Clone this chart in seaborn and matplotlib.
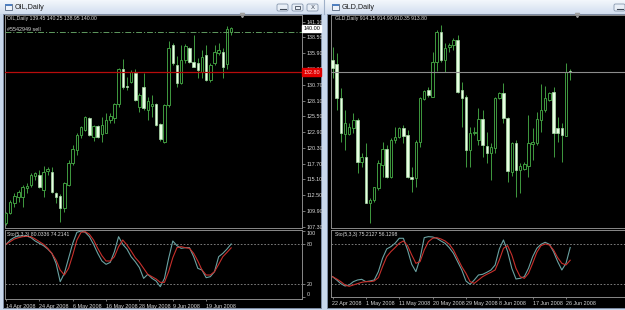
import numpy as np
import pandas as pd
import matplotlib
matplotlib.use("Agg")
import matplotlib.pyplot as plt
import matplotlib.transforms as mtransforms
from matplotlib.patches import Rectangle, FancyBboxPatch
from matplotlib.colors import LinearSegmentedColormap
import seaborn as sns

plt.rcParams['font.family'] = ['Liberation Sans Narrow', 'Liberation Sans', 'DejaVu Sans']

# ---------------- OIL, Daily ----------------
oil_title = "OIL,Daily"
oil_header = "OIL,Daily 139.45 140.25 138.95 140.00"
oil_sto_header = "Sto(5,3,3) 80.0336 74.2141"
oil_open = [107.86, 109.51, 111.26, 112.25, 112.25, 113.63, 114.18, 115.66, 115.83, 113.35,
            116.54, 116.37, 112.91, 112.36, 110.33, 114.18, 117.75, 119.95, 122.42, 123.24,
            125.17, 122.14, 123.90, 122.58, 122.80, 124.89, 125.17, 127.53, 133.24, 130.50,
            131.21, 132.58, 127.09, 130.39, 126.54, 127.20, 127.53, 124.23, 121.32, 127.36,
            137.25, 133.96, 130.94, 134.78, 136.70, 134.51, 134.34, 132.86, 135.61, 131.48,
            134.23, 135.99, 136.15, 134.12, 139.45]
oil_high = [109.78, 111.70, 112.91, 113.35, 114.18, 114.56, 116.10, 116.37, 116.65, 117.31,
            117.20, 117.20, 113.08, 112.69, 114.73, 118.30, 120.77, 122.69, 123.90, 125.55,
            125.33, 124.07, 124.07, 125.44, 125.99, 125.99, 127.75, 133.41, 134.89, 132.03,
            133.13, 133.24, 129.29, 132.58, 128.63, 129.01, 127.64, 124.34, 127.53, 137.97,
            137.53, 135.44, 137.25, 137.42, 136.98, 138.90, 135.06, 136.43, 137.25, 134.23,
            137.25, 137.53, 136.70, 140.39, 140.25]
oil_low = [107.58, 109.40, 110.61, 111.43, 110.61, 112.80, 113.90, 115.00, 113.63, 112.25,
           115.83, 112.91, 111.15, 108.13, 109.67, 114.01, 117.47, 119.12, 121.87, 123.13,
           122.25, 121.43, 121.87, 121.32, 122.69, 124.34, 124.34, 127.09, 129.95, 129.84,
           130.94, 128.08, 126.26, 126.54, 124.89, 125.44, 123.96, 121.48, 121.05, 126.98,
           133.96, 130.28, 130.83, 134.23, 134.34, 133.57, 131.76, 131.76, 131.37, 131.21,
           133.96, 135.61, 131.76, 133.24, 138.95]
oil_close = [109.62, 111.43, 112.36, 113.08, 113.90, 114.01, 115.83, 116.10, 113.90, 116.37,
             116.76, 113.08, 112.25, 110.33, 114.56, 117.86, 120.06, 122.42, 123.79, 125.44,
             122.42, 123.90, 122.14, 124.07, 124.89, 125.55, 127.47, 133.24, 130.28, 130.28,
             132.86, 128.19, 129.01, 126.81, 128.08, 127.53, 124.07, 121.70, 127.36, 136.81,
             134.23, 130.94, 134.78, 137.09, 134.51, 133.68, 133.13, 135.33, 131.48, 133.96,
             136.15, 136.43, 133.68, 139.84, 140.00]
oil_sto_k = [79.5, 86, 90, 92, 92, 92, 89.5, 84.5, 81, 77.5, 72.5, 66, 51, 23.5, 36, 58.5, 81,
             97.5, 99.5, 97.5, 91, 79.5, 66, 54.5, 49.5, 52.5, 68.5, 91, 79.5, 72.5, 61, 53.5,
             44.5, 28.5, 34.5, 28.5, 24.5, 16, 28.5, 58.5, 84.5, 77.5, 73.5, 74.5, 74.5, 61,
             43.5, 41, 29.5, 31, 38.5, 61, 66, 72.5, 80.03]
oil_sto_d = [79.5, 83.5, 87.5, 89.5, 91, 91.5, 91, 87.5, 83.5, 79.5, 73.5, 66, 56, 41, 33.5,
             43.5, 63.5, 86, 97.5, 98.5, 94.5, 86, 73.5, 62.5, 54.5, 54.5, 61, 76, 86, 78.5,
             69.5, 59.5, 52.5, 43.5, 34.5, 31, 27.5, 22.5, 22.5, 38.5, 59.5, 74.5, 76, 74.5,
             73.5, 66, 54.5, 41, 33.5, 33.5, 38.5, 49.5, 61, 67.5, 74.21]
oil_date_labels = ["14 Apr 2008", "24 Apr 2008", "6 May 2008", "16 May 2008",
                   "28 May 2008", "9 Jun 2008", "19 Jun 2008"]
oil_date_bars = [0, 8, 16, 24, 32, 40, 48]
oil_price_ticks = [141.10, 138.50, 135.90, 133.30, 130.70, 128.10, 125.50,
                   122.90, 120.30, 117.70, 115.10, 112.50, 109.90, 107.30]
oil_bid = 140.00
oil_red_level = 132.80
oil_order_level = 139.35
oil_order_label = "#5542949 sell"

# ---------------- GLD, Daily ----------------
gld_title = "GLD,Daily"
gld_header = "GLD,Daily 914.15 914.90 910.35 913.80"
gld_sto_header = "Sto(5,3,3) 75.2127 56.1298"
gld_open = [918.91, 917.20, 902.59, 887.42, 887.42, 889.83, 893.37, 875.64, 877.77, 858.20,
            859.33, 864.30, 874.23, 880.89, 869.26, 884.86, 886.28, 889.83, 886.99, 869.26,
            868.55, 884.15, 902.17, 906.14, 903.30, 918.20, 930.96, 918.91, 924.30, 925.29,
            927.42, 906.14, 903.02, 880.61, 887.98, 884.86, 893.80, 882.31, 879.19, 881.32,
            902.59, 904.72, 894.08, 871.39, 883.45, 872.10, 872.38, 873.80, 883.16, 883.45,
            893.37, 897.63, 901.89, 905.43, 889.83, 889.83, 886.57, 914.15]
gld_high = [924.58, 922.03, 906.85, 897.63, 891.96, 896.21, 894.08, 879.19, 883.45, 860.04,
            865.01, 876.35, 884.15, 882.74, 885.57, 890.54, 890.54, 891.25, 889.12, 873.52,
            884.86, 903.30, 906.14, 907.56, 922.45, 931.67, 933.80, 926.00, 926.00, 928.13,
            929.54, 909.69, 904.01, 890.54, 890.54, 898.34, 897.63, 888.41, 883.45, 903.02,
            905.43, 908.98, 894.79, 884.15, 884.86, 874.93, 875.64, 895.50, 889.83, 896.92,
            908.69, 907.84, 905.43, 907.56, 894.79, 891.96, 917.49, 914.90]
gld_low = [911.10, 897.63, 884.15, 880.61, 886.99, 887.70, 870.68, 873.52, 857.91, 849.40,
           858.62, 863.59, 869.26, 868.55, 868.55, 883.45, 885.57, 883.45, 868.55, 862.88,
           865.01, 882.03, 901.89, 903.30, 903.02, 914.37, 918.20, 913.94, 922.45, 923.16,
           904.72, 890.54, 873.52, 873.52, 886.99, 882.74, 877.77, 874.93, 867.84, 879.47,
           902.17, 891.96, 867.13, 869.54, 860.75, 862.45, 872.10, 869.26, 876.35, 882.74,
           888.41, 896.92, 901.60, 877.77, 884.15, 875.64, 886.57, 910.35]
gld_close = [915.36, 902.59, 887.70, 891.96, 890.54, 893.37, 875.64, 877.49, 858.20, 859.33,
             864.72, 874.93, 880.89, 869.26, 884.86, 886.28, 889.83, 886.57, 869.26, 868.13,
             884.15, 902.59, 905.86, 904.01, 918.20, 930.96, 918.91, 923.87, 925.29, 927.42,
             905.43, 902.59, 880.61, 887.98, 888.41, 893.80, 882.74, 879.47, 881.74, 902.59,
             904.72, 894.08, 871.81, 883.45, 872.10, 873.80, 874.65, 883.45, 884.15, 893.66,
             897.63, 902.59, 905.01, 887.98, 887.98, 886.99, 913.94, 913.80]
gld_sto_k = [31.5, 26.5, 21, 17.5, 19, 24, 26.5, 27.5, 24, 25, 26.5, 39, 59, 73, 76.5, 81.5,
             89, 89, 71.5, 50, 39, 59, 90, 91.5, 91, 89, 85, 81.5, 75, 66.5, 54, 41.5, 25, 20,
             26.5, 34, 35, 38, 41.5, 49, 73, 86.5, 69, 44, 28, 29, 31.5, 44, 61.5, 74, 80, 83,
             80, 69, 54, 41.5, 51.5, 75.21]
gld_sto_d = [31.5, 28, 24, 19, 17, 19, 21, 23, 24, 24, 25, 30, 46.5, 61.5, 69, 75, 81.5, 85,
             78, 64, 51.5, 54, 71.5, 84, 89, 90, 88, 85, 80, 71.5, 59, 46.5, 36.5, 24, 21.5,
             26.5, 31.5, 35, 38, 41.5, 56.5, 74, 78, 64, 44, 31.5, 29, 36.5, 51.5, 68, 78,
             80.5, 79, 71.5, 60, 51.5, 49, 56.13]
gld_date_labels = ["22 Apr 2008", "1 May 2008", "11 May 2008", "20 May 2008",
                   "29 May 2008", "8 Jun 2008", "17 Jun 2008", "26 Jun 2008"]
gld_date_bars = [0, 8, 16, 24, 32, 40, 48, 56]
gld_bid = 913.80

sto_levels = [20, 80]
sto_ticks = [0, 20, 80, 100]

# ---------------- styling ----------------
W, H = 625, 310
BAR_PX = 4.17
FS = 3.9
FS_HEAD = 3.7
WICK = '#3f9a3f'
BEAR_FACE = '#e8ffe2'
BEAR_EDGE = '#a8dca8'
K_COLOR = '#6aa2a2'
D_COLOR = '#c8302c'
FRAME = '#8a8a8a'
TXT = '#d8d8d8'

fig = plt.figure(figsize=(W / 100, H / 100), dpi=100)
fig.patch.set_facecolor('#cbd9ec')


def px_axes(x0, y0, x1, y1, z=1):
    return fig.add_axes([x0 / W, 1 - y1 / H, (x1 - x0) / W, (y1 - y0) / H], zorder=z)


# window chrome
bg = px_axes(0, 0, W, H, z=0)
grad = np.linspace(0, 1, 30).reshape(-1, 1)
cmap = LinearSegmentedColormap.from_list('tb', ['#f3f7fc', '#d2deef'])
bg.imshow(grad, extent=[0, W, 14, 0], aspect='auto', cmap=cmap)
bg.set_xlim(0, W)
bg.set_ylim(H, 0)
bg.axis('off')
bg.add_patch(Rectangle((0, 14), W, H - 14, fc='#c9d8ec', ec='none'))
bg.add_patch(Rectangle((3, 14), 318, 294, fc='black', ec='#7d8ca3', lw=0.7))
bg.add_patch(Rectangle((327, 14), 302, 294, fc='black', ec='#7d8ca3', lw=0.7))
bg.plot([323.5, 323.5], [0, 14], color='#9fb0c8', lw=0.8)
for (ix, tx, title) in [(5, 15, oil_title), (332, 342, gld_title)]:
    bg.add_patch(Rectangle((ix, 4), 7, 6, fc='#eef3fa', ec='#55667f', lw=0.6))
    bg.add_patch(Rectangle((ix, 4), 7, 1.6, fc='#4f7fc0', ec='none'))
    bg.text(tx, 7.4, title, fontsize=5.2, color='#1c1c1c', va='center', ha='left')
for bx in [277, 292, 307, 614]:
    bg.add_patch(FancyBboxPatch((bx, 4), 11, 7, boxstyle='round,pad=0,rounding_size=1.5',
                                fc='#e9eff7', ec='#8797ae', lw=0.6))
bg.plot([279.5, 285.5], [9, 9], color='#404a58', lw=0.8)
bg.plot([616.5, 622.5], [9, 9], color='#404a58', lw=0.8)
bg.add_patch(Rectangle((295, 5.8), 5, 3.6, fc='none', ec='#404a58', lw=0.6))
bg.text(312.5, 7.6, 'X', fontsize=4.2, color='#404a58', ha='center', va='center',
        family='DejaVu Sans')


def style_ax(ax):
    ax.set_facecolor('black')
    for s in ax.spines.values():
        s.set_color(FRAME)
        s.set_linewidth(0.7)


def draw_candles(ax, o, h, l, c, min_h):
    o, h, l, c = map(np.asarray, (o, h, l, c))
    x = np.arange(len(o))
    ax.vlines(x, l, h, color=WICK, lw=0.7, zorder=2)
    bull = c >= o
    bottom = np.minimum(o, c)
    height = np.maximum(np.abs(c - o), min_h)
    ax.bar(x[bull], height[bull], bottom=bottom[bull], width=0.6, facecolor='black',
           edgecolor=WICK, lw=0.7, zorder=3)
    ax.bar(x[~bull], height[~bull], bottom=bottom[~bull], width=0.6, facecolor=BEAR_FACE,
           edgecolor=BEAR_EDGE, lw=0.5, zorder=3)


def draw_sto(ax, k, d):
    n = len(k)
    df = pd.DataFrame({'bar': np.r_[np.arange(n), np.arange(len(d))],
                       'value': np.r_[k, d],
                       'line': ['K'] * n + ['D'] * len(d)})
    sns.lineplot(data=df, x='bar', y='value', hue='line', hue_order=['K', 'D'],
                 palette={'K': K_COLOR, 'D': D_COLOR}, ax=ax, legend=False, lw=0.8,
                 estimator=None, sort=False)
    ax.set_xlabel('')
    ax.set_ylabel('')
    for lv in sto_levels:
        ax.axhline(lv, color='#9a9a9a', lw=0.55, ls=(0, (2.2, 2.2)), zorder=1)


def y_at(px_top, px_bot, v_ref, px_ref, px_per_unit):
    return (v_ref - (px_bot - px_ref) / px_per_unit, v_ref + (px_ref - px_top) / px_per_unit)


# ---------------- left: OIL ----------------
L_X0, L_X1 = 5, 302
L_BAR0 = 6
lx = ((L_X0 - L_BAR0) / BAR_PX, (L_X1 - L_BAR0) / BAR_PX)

axL = px_axes(L_X0, 15, L_X1, 228, z=2)
style_ax(axL)
draw_candles(axL, oil_open, oil_high, oil_low, oil_close, 0.15)
axL.set_xlim(*lx)
axL.set_ylim(*y_at(15, 228, 141.10, 21.7, 6.065))
axL.set_xticks([])
axL.yaxis.tick_right()
axL.set_yticks(oil_price_ticks)
axL.set_yticklabels([f"{t:.2f}" for t in oil_price_ticks])
axL.tick_params(axis='y', colors=FRAME, labelcolor=TXT, labelsize=FS, length=2,
                width=0.6, pad=1.5)
axL.axhline(oil_red_level, color='#b80c0c', lw=0.9, zorder=4)
axL.axhline(oil_order_level, color='#5f9a5f', lw=0.7, ls=(0, (6, 2, 1.2, 2)), zorder=4)
trL = mtransforms.blended_transform_factory(axL.transAxes, axL.transData)
axL.text(0.008, oil_order_level + 0.12, oil_order_label, transform=trL, fontsize=FS,
         color=TXT, va='bottom', ha='left', zorder=5)
axL.text(1.004, oil_bid, f"{oil_bid:.2f}", transform=trL, fontsize=FS, color='black',
         va='center', ha='left', clip_on=False, zorder=6,
         bbox=dict(fc='white', ec='white', pad=0.6))
axL.text(1.004, oil_red_level, f"{oil_red_level:.2f}", transform=trL, fontsize=FS,
         color='#ffd0d0', va='center', ha='left', clip_on=False, zorder=6,
         bbox=dict(fc='#e00000', ec='#e00000', pad=0.9))
axL.text(0.007, 0.982, oil_header, transform=axL.transAxes, fontsize=FS_HEAD, color=TXT,
         va='center', ha='left')
trLt = mtransforms.blended_transform_factory(axL.transData, axL.transAxes)
axL.plot([56.5], [1.0], marker='v', ms=3, color='#a0a0a0', transform=trLt, clip_on=False)

sL = px_axes(L_X0, 230, L_X1, 299, z=2)
style_ax(sL)
draw_sto(sL, oil_sto_k, oil_sto_d)
sL.set_xlim(*lx)
sL.set_ylim(*y_at(230, 299, 80, 244, 0.667))
sL.yaxis.tick_right()
sL.set_yticks(sto_ticks)
sL.set_yticklabels([str(t) for t in sto_ticks])
sL.tick_params(axis='y', colors=FRAME, labelcolor=TXT, labelsize=FS, length=2,
               width=0.6, pad=1.5)
for lab, t in zip(sL.get_yticklabels(), sto_ticks):
    lab.set_va('top' if t == 100 else ('bottom' if t == 0 else 'center'))
sL.set_xticks(oil_date_bars)
sL.set_xticklabels(oil_date_labels, ha='left')
sL.tick_params(axis='x', colors=FRAME, labelcolor=TXT, labelsize=FS, length=1.5,
               width=0.6, pad=2.2)
sL.text(0.007, 0.94, oil_sto_header, transform=sL.transAxes, fontsize=FS_HEAD, color=TXT,
        va='center', ha='left')

# ---------------- right: GLD ----------------
R_X0, R_X1 = 331, 627
R_BAR0 = 332.5
rx = ((R_X0 - R_BAR0) / BAR_PX, (R_X1 - R_BAR0) / BAR_PX)

axR = px_axes(R_X0, 15, R_X1, 228, z=2)
style_ax(axR)
draw_candles(axR, gld_open, gld_high, gld_low, gld_close, 0.4)
axR.set_xlim(*rx)
axR.set_ylim(*y_at(15, 228, gld_bid, 72, 2.35))
axR.set_xticks([])
axR.set_yticks([])
axR.axhline(gld_bid, color='#8c8c8c', lw=0.8, zorder=4)
axR.text(0.012, 0.982, gld_header, transform=axR.transAxes, fontsize=FS_HEAD, color=TXT,
         va='center', ha='left')
trRt = mtransforms.blended_transform_factory(axR.transData, axR.transAxes)
axR.plot([58.6], [1.0], marker='v', ms=3, color='#a0a0a0', transform=trRt, clip_on=False)

sR = px_axes(R_X0, 230, R_X1, 297, z=2)
style_ax(sR)
draw_sto(sR, gld_sto_k, gld_sto_d)
sR.set_xlim(*rx)
sR.set_ylim(*y_at(230, 297, 80, 244.3, 0.667))
sR.set_yticks([])
sR.set_xticks(gld_date_bars)
sR.set_xticklabels(gld_date_labels, ha='left')
sR.tick_params(axis='x', colors=FRAME, labelcolor=TXT, labelsize=FS, length=1.5,
               width=0.6, pad=1.2)
sR.text(0.012, 0.93, gld_sto_header, transform=sR.transAxes, fontsize=FS_HEAD, color=TXT,
        va='center', ha='left')

fig.savefig('out.png', dpi=100, facecolor=fig.get_facecolor())
